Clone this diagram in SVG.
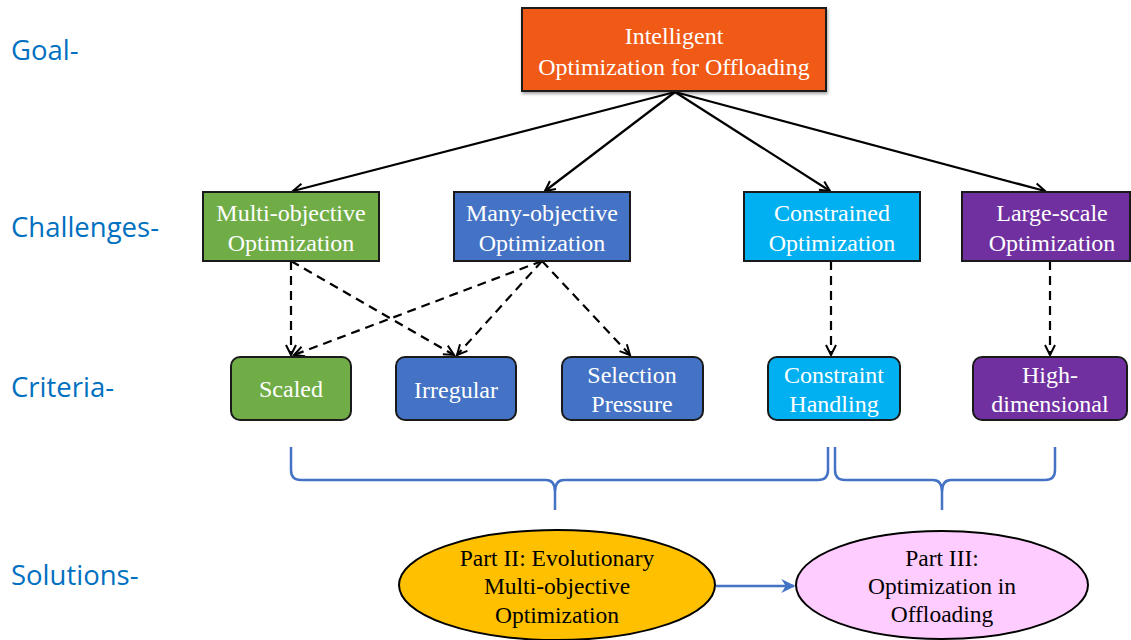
<svg xmlns="http://www.w3.org/2000/svg" width="1131" height="640" viewBox="0 0 1131 640">
  <defs>
    <style>
      .lvl { font-family: "Open Sans", "Liberation Sans", sans-serif; font-size: 27.5px; fill: #0070C0; }
      .box { stroke: #1a1a1a; stroke-width: 2; }
      .t { font-family: "Liberation Serif", "DejaVu Serif", serif; font-size: 24px; fill: #ffffff; text-anchor: middle; }
      .tb { font-family: "Liberation Serif", "DejaVu Serif", serif; font-size: 23.5px; fill: #000000; text-anchor: middle; }
      .solid { stroke: #000; stroke-width: 2.2; fill: none; }
      .dash { stroke: #000; stroke-width: 2.2; fill: none; stroke-dasharray: 9 6; }
      .brace { stroke: #4472C4; stroke-width: 2.5; fill: none; }
    </style>
    <marker id="open" viewBox="0 0 12 12" refX="11" refY="6" markerWidth="12" markerHeight="12" markerUnits="userSpaceOnUse" orient="auto" overflow="visible">
      <path d="M1,1 L11,6 L1,11" fill="none" stroke="#000" stroke-width="2"/>
    </marker>
    <marker id="blueHead" viewBox="0 0 10 10" refX="9" refY="5" markerWidth="14" markerHeight="14" markerUnits="userSpaceOnUse" orient="auto">
      <path d="M0,0 L10,5 L0,10 L3,5 Z" fill="#4472C4"/>
    </marker>
    <filter id="shadow" x="-5%" y="-10%" width="110%" height="125%">
      <feDropShadow dx="1" dy="2" stdDeviation="1.5" flood-color="#000" flood-opacity="0.35"/>
    </filter>
  </defs>

  <rect width="1131" height="640" fill="#ffffff"/>

  <!-- level labels -->
  <g id="levels">
    <text class="lvl" x="11" y="60">Goal-</text>
    <text class="lvl" x="11" y="237">Challenges-</text>
    <text class="lvl" x="11" y="397">Criteria-</text>
    <text class="lvl" x="11" y="585">Solutions-</text>
  </g>

  <!-- connectors -->
  <g id="connectors">
    <line class="solid" x1="675" y1="92" x2="293" y2="191" marker-end="url(#open)"/>
    <line class="solid" x1="675" y1="92" x2="545" y2="191" marker-end="url(#open)"/>
    <line class="solid" x1="675" y1="92" x2="830" y2="191" marker-end="url(#open)"/>
    <line class="solid" x1="675" y1="92" x2="1045" y2="191" marker-end="url(#open)"/>

    <line class="dash" x1="291" y1="261" x2="291" y2="355" marker-end="url(#open)"/>
    <line class="dash" x1="291" y1="261" x2="454" y2="355" marker-end="url(#open)"/>
    <line class="dash" x1="542" y1="261" x2="294" y2="355" marker-end="url(#open)"/>
    <line class="dash" x1="542" y1="261" x2="457" y2="355" marker-end="url(#open)"/>
    <line class="dash" x1="542" y1="261" x2="630" y2="355" marker-end="url(#open)"/>
    <line class="dash" x1="831" y1="261" x2="831" y2="355" marker-end="url(#open)"/>
    <line class="dash" x1="1050" y1="261" x2="1050" y2="355" marker-end="url(#open)"/>

    <!-- grouping braces -->
    <path class="brace" d="M291,447 L291,470 Q291,480 301,480 L546,480 Q555,480 555,492 L555,510 M555,492 Q555,480 564,480 L818,480 Q828,480 828,470 L828,447"/>
    <path class="brace" d="M835,447 L835,470 Q835,480 845,480 L933,480 Q942,480 942,492 L942,510 M942,492 Q942,480 951,480 L1045,480 Q1055,480 1055,470 L1055,447"/>

    <line x1="716" y1="586" x2="794" y2="586" stroke="#4472C4" stroke-width="2.5" marker-end="url(#blueHead)"/>
  </g>

  <!-- goal -->
  <g id="goal">
    <rect class="box" x="522" y="8" width="304" height="83" fill="#F05A16" filter="url(#shadow)" stroke-width="1.2"/>
    <text class="t" x="674" y="44">Intelligent</text>
    <text class="t" x="674" y="75">Optimization for Offloading</text>
  </g>

  <!-- challenges -->
  <g id="multi-objective">
    <rect class="box" x="203" y="192" width="176" height="69" fill="#70AD47"/>
    <text class="t" x="291" y="221">Multi-objective</text>
    <text class="t" x="291" y="251">Optimization</text>
  </g>
  <g id="many-objective">
    <rect class="box" x="454" y="192" width="176" height="69" fill="#4472C4"/>
    <text class="t" x="542" y="221">Many-objective</text>
    <text class="t" x="542" y="251">Optimization</text>
  </g>
  <g id="constrained">
    <rect class="box" x="744" y="192" width="176" height="69" fill="#00B0F0"/>
    <text class="t" x="832" y="221">Constrained</text>
    <text class="t" x="832" y="251">Optimization</text>
  </g>
  <g id="large-scale">
    <rect class="box" x="962" y="192" width="168" height="69" fill="#7030A0"/>
    <text class="t" x="1052" y="221">Large-scale</text>
    <text class="t" x="1052" y="251">Optimization</text>
  </g>

  <!-- criteria -->
  <g id="scaled">
    <rect class="box" x="231" y="357" width="120" height="63" rx="9" fill="#70AD47"/>
    <text class="t" x="291" y="397">Scaled</text>
  </g>
  <g id="irregular">
    <rect class="box" x="396" y="357" width="120" height="63" rx="9" fill="#4472C4"/>
    <text class="t" x="456" y="398">Irregular</text>
  </g>
  <g id="selection-pressure">
    <rect class="box" x="562" y="357" width="141" height="63" rx="9" fill="#4472C4"/>
    <text class="t" x="632" y="383">Selection</text>
    <text class="t" x="632" y="412">Pressure</text>
  </g>
  <g id="constraint-handling">
    <rect class="box" x="768" y="357" width="132" height="63" rx="9" fill="#00B0F0"/>
    <text class="t" x="834" y="383">Constraint</text>
    <text class="t" x="834" y="412">Handling</text>
  </g>
  <g id="high-dimensional">
    <rect class="box" x="973" y="357" width="154" height="63" rx="9" fill="#7030A0"/>
    <text class="t" x="1050" y="383">High-</text>
    <text class="t" x="1050" y="412">dimensional</text>
  </g>

  <!-- solutions -->
  <g id="part-ii">
    <ellipse cx="557" cy="585" rx="158" ry="55" fill="#FFC000" stroke="#000" stroke-width="2"/>
    <text class="tb" x="557" y="566">Part II: Evolutionary</text>
    <text class="tb" x="557" y="594">Multi-objective</text>
    <text class="tb" x="557" y="623">Optimization</text>
  </g>
  <g id="part-iii">
    <ellipse cx="942" cy="585" rx="146" ry="54" fill="#FFCCFF" stroke="#000" stroke-width="2"/>
    <text class="tb" x="942" y="566" font-size="22">Part III:</text>
    <text class="tb" x="942" y="594" font-size="22">Optimization in</text>
    <text class="tb" x="942" y="622" font-size="22">Offloading</text>
  </g>
</svg>
